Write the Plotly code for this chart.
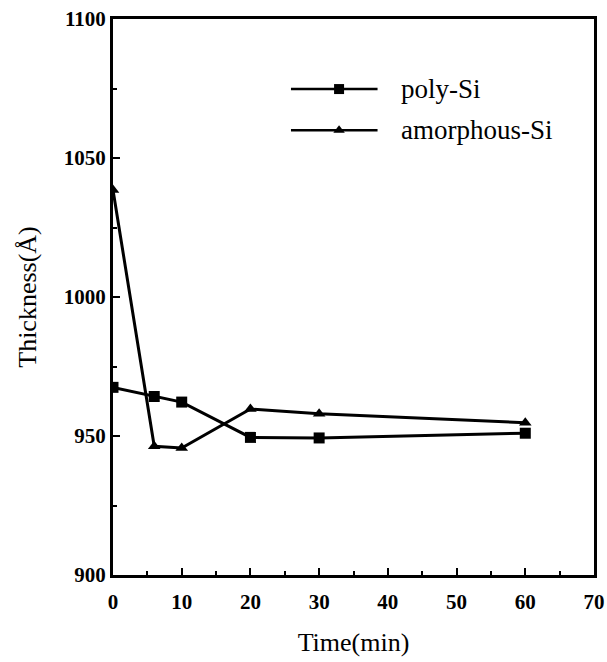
import plotly.graph_objects as go

time_poly = [0, 6, 10, 20, 30, 60]
thick_poly = [967.5, 964.2, 962.2, 949.5, 949.3, 951.0]
time_amor = [0, 6, 10, 20, 30, 60]
thick_amor = [1038.5, 946.3, 945.7, 959.7, 958.0, 954.8]

x_ticks = [0, 10, 20, 30, 40, 50, 60, 70]
y_ticks = [900, 950, 1000, 1050, 1100]

FONT = "Times New Roman, Liberation Serif, serif"
fig = go.Figure()
fig.add_trace(go.Scatter(x=time_poly, y=thick_poly, mode="lines+markers", name="poly-Si",
                         line=dict(color="black", width=3),
                         marker=dict(symbol="square", size=11, color="black"), showlegend=False))
fig.add_trace(go.Scatter(x=time_amor, y=thick_amor, mode="lines+markers", name="amorphous-Si",
                         line=dict(color="black", width=3),
                         marker=dict(symbol="triangle-up", size=11, color="black"), showlegend=False))

# manual legend on auxiliary axes
leg_names = ["poly-Si", "amorphous-Si"]
leg_symbols = ["square", "triangle-up"]
leg_y = [0.874, 0.80]
for nm, sym, yy in zip(leg_names, leg_symbols, leg_y):
    fig.add_trace(go.Scatter(x=[0.37, 0.47, 0.55], y=[yy, yy, yy], mode="lines",
                             line=dict(color="black", width=2.5), xaxis="x2", yaxis="y2",
                             showlegend=False, hoverinfo="skip"))
    fig.add_trace(go.Scatter(x=[0.47], y=[yy], mode="markers",
                             marker=dict(symbol=sym, size=10, color="black"),
                             xaxis="x2", yaxis="y2", showlegend=False, hoverinfo="skip"))
    fig.add_annotation(x=0.595, y=yy, xref="x2", yref="y2", text=nm, showarrow=False,
                       xanchor="left", yanchor="middle", font=dict(family=FONT, size=27, color="black"))

axis_common = dict(showgrid=False, zeroline=False, showline=True, linecolor="black", linewidth=3,
                   mirror=True, ticks="inside", ticklen=7, tickwidth=2, tickcolor="black",
                   automargin=False,
                   tickfont=dict(family=FONT, size=21, color="black", weight=700))
fig.update_layout(
    width=607, height=662,
    margin=dict(l=113, r=13, t=19, b=87),
    paper_bgcolor="white", plot_bgcolor="white",
    font=dict(family=FONT, color="black"),
    xaxis=dict(range=[0, 70], tickvals=x_ticks, ticklabelstandoff=6,
               minor=dict(ticks="inside", ticklen=4, dtick=5, tickwidth=2, tickcolor="black"),
               title=dict(text="Time(min)", font=dict(family=FONT, size=26, color="black"), standoff=20),
               **axis_common),
    yaxis=dict(range=[900, 1100], tickvals=y_ticks,
               minor=dict(ticks="inside", ticklen=4, dtick=25, tickwidth=2, tickcolor="black"),
               title=dict(text="Thickness(Å)", font=dict(family=FONT, size=26, color="black"), standoff=20),
               **axis_common),
    xaxis2=dict(range=[0, 1], overlaying="x", visible=False),
    yaxis2=dict(range=[0, 1], overlaying="y", visible=False),
)
fig.write_html("out.html")
